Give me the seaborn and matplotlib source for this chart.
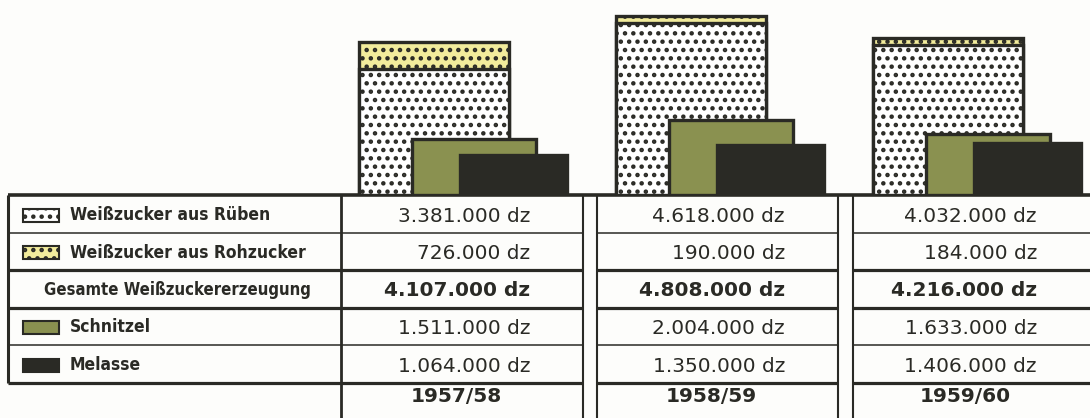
import matplotlib
matplotlib.use("Agg")
import matplotlib.pyplot as plt
from matplotlib.patches import Rectangle
import numpy as np
import seaborn as sns

# Zuckererzeugung je Kampagne (dz)
years = ["1957/58", "1958/59", "1959/60"]
ruebe = [3381000, 4618000, 4032000]
rohzucker = [726000, 190000, 184000]
gesamt = [4107000, 4808000, 4216000]
schnitzel = [1511000, 2004000, 1633000]
melasse = [1064000, 1350000, 1406000]

row_labels = [
    "Weißzucker aus Rüben",
    "Weißzucker aus Rohzucker",
    "Gesamte Weißzuckererzeugung",
    "Schnitzel",
    "Melasse",
]

dark = "#2a2a25"
yellow = "#f2ec9c"
green = "#8a9150"
paper = "#fdfdfb"

sns.set_theme(style="white")
plt.rcParams["font.family"] = ["DejaVu Sans"]
plt.rcParams["hatch.color"] = dark
plt.rcParams["hatch.linewidth"] = 2.0

W, H = 1090, 418
base = 195  # pixel row of the table's top line

fig = plt.figure(figsize=(W / 100, H / 100), dpi=100, facecolor=paper)

# table, drawn in pixel coordinates
tab = fig.add_axes([0, 0, 1, 1])
tab.set_xlim(0, W)
tab.set_ylim(H, 0)
tab.axis("off")

# bar chart above the table
ax = fig.add_axes([0, (H - base) / H, 1, base / H])
ax.patch.set_alpha(0)

idx = np.arange(len(years))
common = dict(ax=ax, native_scale=True, orient="x", errorbar=None,
              saturation=1, edgecolor=dark, linewidth=2.4)

sns.barplot(x=idx, y=gesamt, width=0.58, color=yellow, hatch="..", **common)
sns.barplot(x=idx, y=ruebe, width=0.58, color="white", hatch="..", **common)
sns.barplot(x=idx + 0.156, y=schnitzel, width=0.48, color=green, **common)
sns.barplot(x=idx + 0.311, y=melasse, width=0.416, color=dark, **common)

ax.set_xlim(-434 / 257, (W - 434) / 257)
ax.set_ylim(0, base / 37.2 * 1e6)
ax.axis("off")

# grid lines of the table
row_y = [195, 233, 270, 308, 345, 383]
row_lw = [2.6, 1.1, 2.3, 2.3, 1.1, 2.3]
cols = [(341, 583), (597, 838), (853, W)]
segs = [(8, 583), (597, 838), (853, W)]

tab.plot([8, W], [row_y[0], row_y[0]], color=dark, lw=row_lw[0], solid_capstyle="butt")
for y, lw in zip(row_y[1:], row_lw[1:]):
    for x0, x1 in segs:
        tab.plot([x0, x1], [y, y], color=dark, lw=lw, solid_capstyle="butt")

tab.plot([8, 8], [195, 383], color=dark, lw=2.2, solid_capstyle="butt")
tab.plot([341, 341], [195, H], color=dark, lw=2.0, solid_capstyle="butt")
for x in [583, 597, 838, 853]:
    tab.plot([x, x], [195, H], color=dark, lw=1.5, solid_capstyle="butt")

# row labels with legend swatches
swatch = [("white", ".."), (yellow, ".."), None, (green, None), (dark, None)]
label_font = dict(fontweight="bold", fontstretch="condensed", fontsize=12.5, color=dark)
for k, label in enumerate(row_labels):
    cy = (row_y[k] + row_y[k + 1]) / 2 + 1
    if swatch[k] is None:
        tab.text(177, cy, label, ha="center", va="center", fontsize=12,
                 **{k2: v for k2, v in label_font.items() if k2 != "fontsize"})
    else:
        fc, ht = swatch[k]
        tab.add_patch(Rectangle((23, cy - 6.5), 36, 13, facecolor=fc,
                                edgecolor=dark, lw=1.5, hatch=ht))
        tab.text(70, cy, label, ha="left", va="center", **label_font)

# values
series = [ruebe, rohzucker, gesamt, schnitzel, melasse]


def fmt(v):
    return f"{v:,}".replace(",", ".") + " dz"


for j, (x0, x1) in enumerate(cols):
    for k, vals in enumerate(series):
        cy = (row_y[k] + row_y[k + 1]) / 2 + 2
        tab.text(x1 - 53, cy, fmt(vals[j]), ha="right", va="center",
                 fontsize=14.5, color=dark,
                 fontweight="bold" if k == 2 else "normal")
    tab.text((x0 + x1) / 2 - 6, 396, years[j], ha="center", va="center",
             fontsize=14.5, fontweight="bold", color=dark)

fig.savefig("out.png", dpi=100, facecolor=paper)
